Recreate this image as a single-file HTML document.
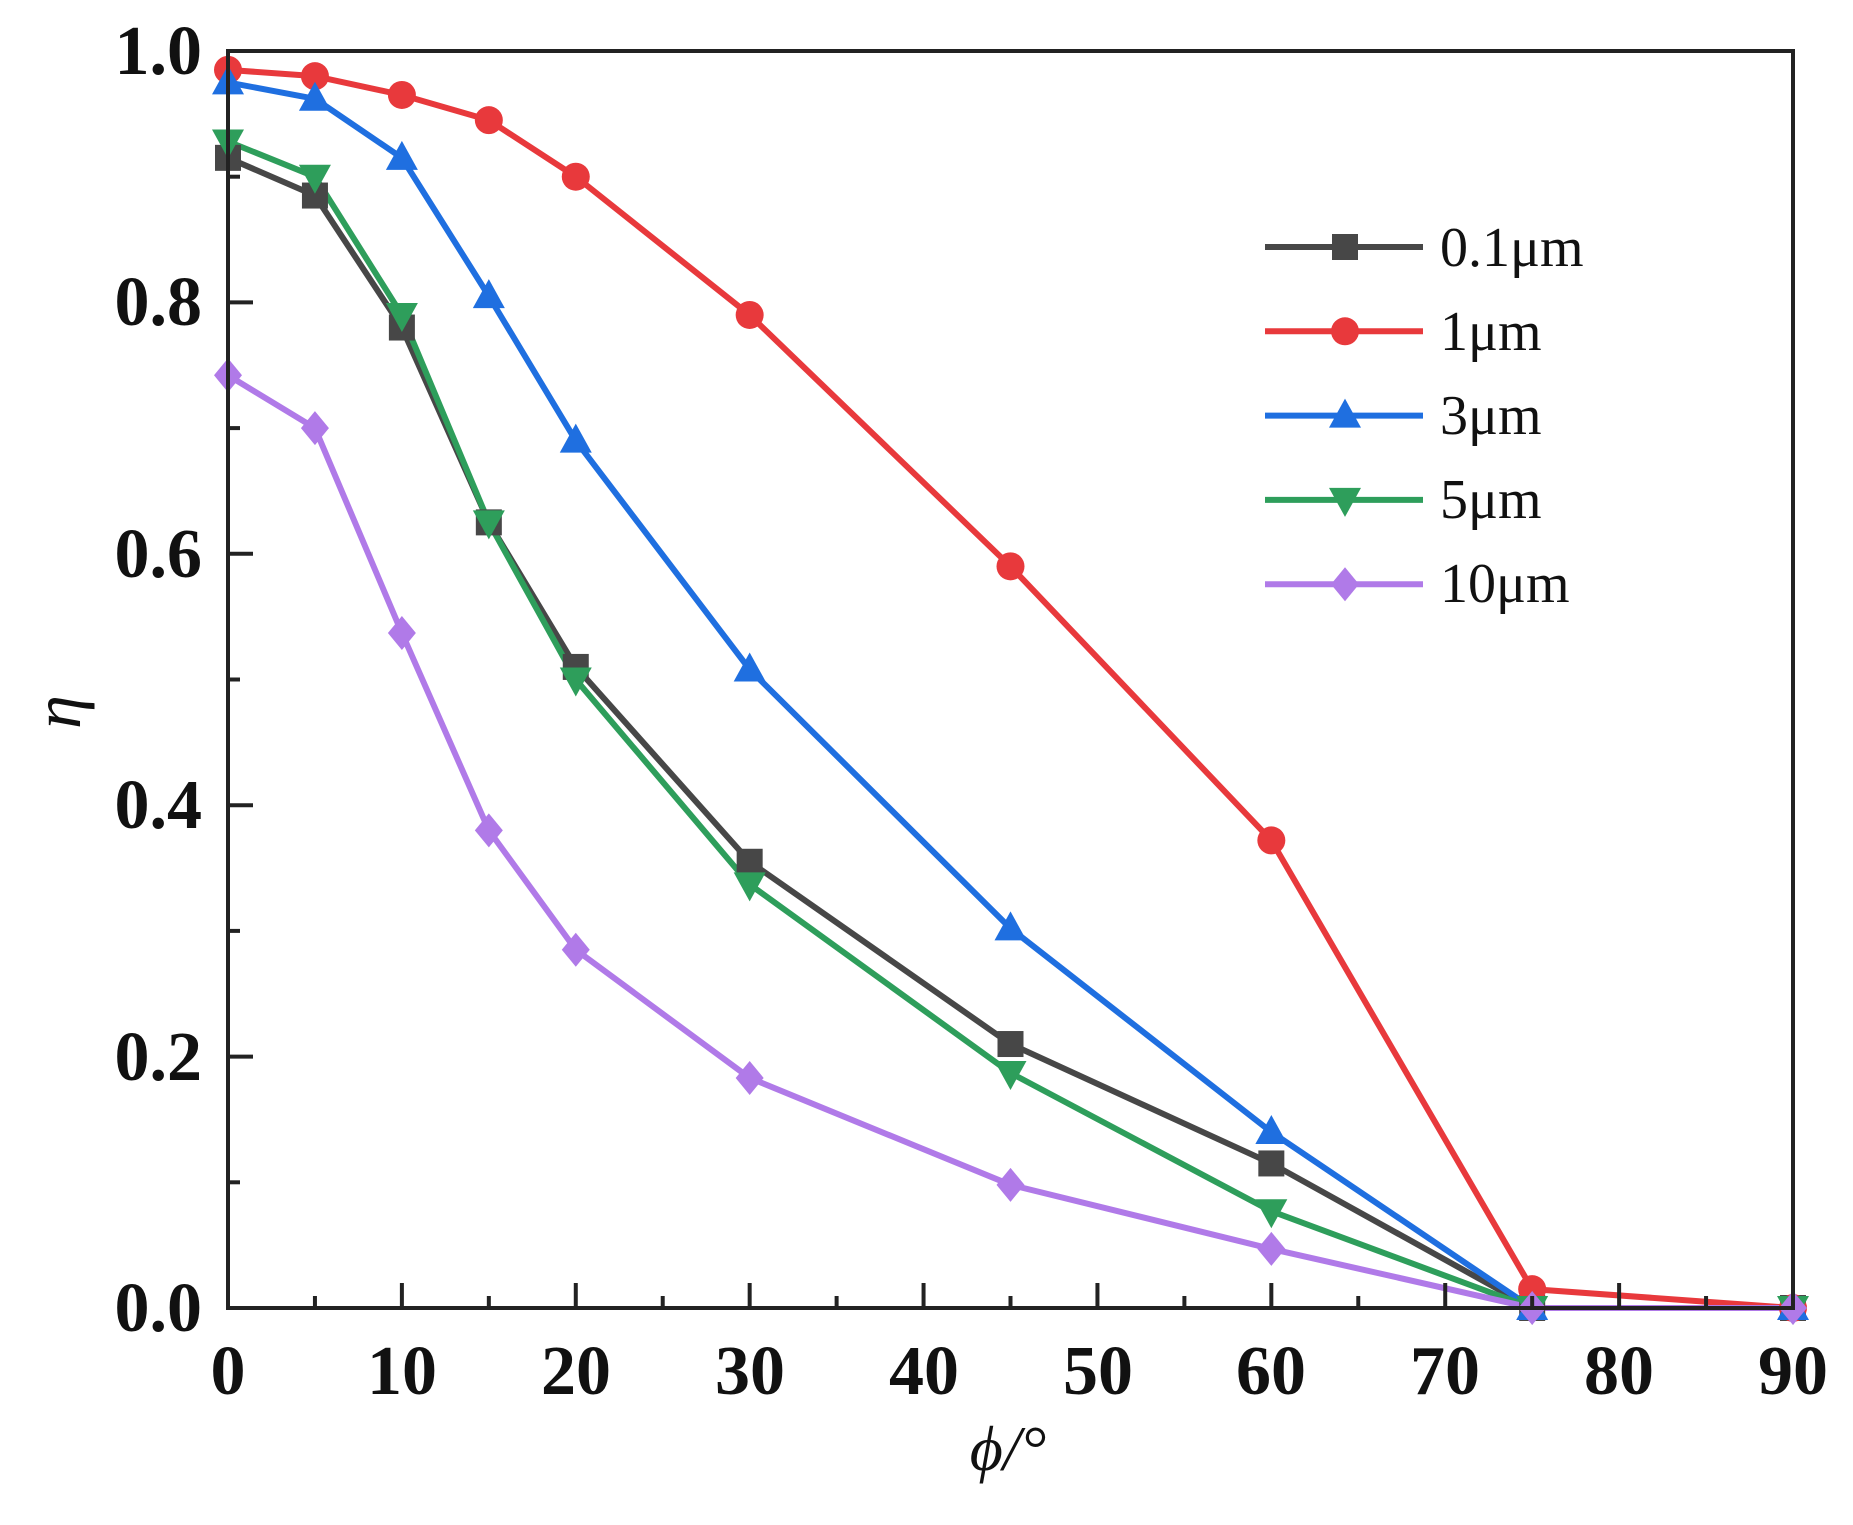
<!DOCTYPE html>
<html><head><meta charset="utf-8"><style>
html,body{margin:0;padding:0;background:#fff;}
svg{display:block;}
text{font-family:"Liberation Serif",serif;}
</style></head><body>
<svg id="s" width="1853" height="1525" viewBox="0 0 1853 1525" xmlns="http://www.w3.org/2000/svg">
<rect width="1853" height="1525" fill="#fff"/>
<g id="plot"></g>
<rect x="228" y="51" width="1565" height="1257" fill="none" stroke="#222" stroke-width="4"/>
<g id="ticks" stroke="#222" stroke-width="4"></g>
<g font-weight="bold" font-size="70" fill="#111" text-anchor="end">
<text x="202" y="1331">0.0</text>
<text x="202" y="1080">0.2</text>
<text x="202" y="828">0.4</text>
<text x="202" y="577">0.6</text>
<text x="202" y="325">0.8</text>
<text x="202" y="74">1.0</text>
</g>
<g font-weight="bold" font-size="70" fill="#111" text-anchor="middle">
<text x="228" y="1394">0</text>
<text x="402" y="1394">10</text>
<text x="576" y="1394">20</text>
<text x="750" y="1394">30</text>
<text x="924" y="1394">40</text>
<text x="1098" y="1394">50</text>
<text x="1271" y="1394">60</text>
<text x="1445" y="1394">70</text>
<text x="1619" y="1394">80</text>
<text x="1793" y="1394">90</text>
</g>
<text x="1008" y="1470" font-size="64" font-style="italic" text-anchor="middle" fill="#111">ϕ/°</text>
<text transform="translate(80,712) rotate(-90)" font-size="68" font-style="italic" text-anchor="middle" fill="#111">η</text>
<g id="legend"></g>
<g font-size="56" fill="#111">
<text x="1440" y="266">0.1μm</text>
<text x="1440" y="350">1μm</text>
<text x="1440" y="434">3μm</text>
<text x="1440" y="518">5μm</text>
<text x="1440" y="602">10μm</text>
</g>
</svg>
<script>
var NS="http://www.w3.org/2000/svg";
function X(v){return 228+v*1565/90;}
function Y(v){return 1308-v*1257;}
function el(p,n,a){var e=document.createElementNS(NS,n);for(var k in a)e.setAttribute(k,a[k]);p.appendChild(e);return e;}
var t=document.getElementById('ticks');
for(var i=0;i<=18;i++){var x=X(i*5),L=i%2?12:25;el(t,'line',{x1:x,y1:1308,x2:x,y2:1308-L});}
for(var j=0;j<=10;j++){var y=Y(j*0.1),L=j%2?12:25;el(t,'line',{x1:228,y1:y,x2:228+L,y2:y});}
var xs=[0,5,10,15,20,30,45,60,75,90];
var S=[
{c:'#474747',m:'sq',d:[0.915,0.885,0.78,0.625,0.51,0.355,0.21,0.115,0,0]},
{c:'#e8393c',m:'ci',d:[0.985,0.98,0.965,0.945,0.9,0.79,0.59,0.372,0.015,0]},
{c:'#1f6fe0',m:'tu',d:[0.975,0.962,0.915,0.805,0.69,0.508,0.302,0.14,0,0]},
{c:'#2e9e5b',m:'td',d:[0.928,0.9,0.79,0.625,0.5,0.337,0.187,0.077,0,0]},
{c:'#b07ae8',m:'di',d:[0.742,0.7,0.537,0.38,0.285,0.183,0.098,0.047,0,0]}];
function mk(g,m,x,y,c){var r=13;
 if(m=='sq')el(g,'rect',{x:x-r,y:y-r,width:2*r,height:2*r,fill:c});
 else if(m=='ci')el(g,'circle',{cx:x,cy:y,r:r+1,fill:c});
 else if(m=='tu')el(g,'polygon',{points:(x)+','+(y-r-4)+' '+(x-r-3)+','+(y+r-1)+' '+(x+r+3)+','+(y+r-1),fill:c});
 else if(m=='td')el(g,'polygon',{points:(x)+','+(y+r+4)+' '+(x-r-3)+','+(y-r+1)+' '+(x+r+3)+','+(y-r+1),fill:c});
 else el(g,'polygon',{points:x+','+(y-r-4)+' '+(x+r+1)+','+y+' '+x+','+(y+r+4)+' '+(x-r-1)+','+y,fill:c});}
var p=document.getElementById('plot');
S.forEach(function(s){var pts=s.d.map(function(v,i){return X(xs[i])+','+Y(v)}).join(' ');
 el(p,'polyline',{points:pts,fill:'none',stroke:s.c,'stroke-width':6,'stroke-linejoin':'round'});});
S.forEach(function(s){s.d.forEach(function(v,i){mk(p,s.m,X(xs[i]),Y(v),s.c);});});
var lg=document.getElementById('legend');
S.forEach(function(s,i){var y=247+i*84.3;
 el(lg,'line',{x1:1265,y1:y,x2:1423,y2:y,stroke:s.c,'stroke-width':6});mk(lg,s.m,1345,y,s.c);});
</script>
</body></html>
